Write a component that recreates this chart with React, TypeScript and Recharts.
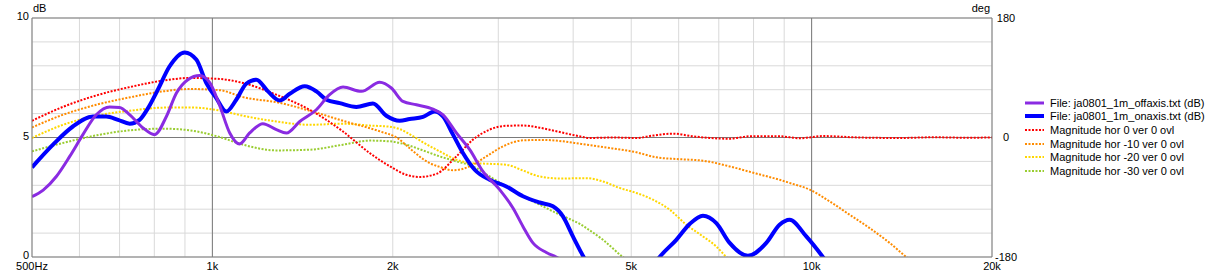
import React from 'react';
import { LineChart, Line, XAxis, YAxis, CartesianGrid, ReferenceLine } from 'recharts';

const FONT = '"Liberation Sans", Arial, sans-serif';

// x axis: gridlines at every tick, labels only on a few
const freqTicks = [500, 600, 700, 800, 900, 1000, 2000, 3000, 4000, 5000, 6000, 7000, 8000, 9000, 10000, 20000];
const freqLabels: Record<number, string> = { 500: '500Hz', 1000: '1k', 2000: '2k', 5000: '5k', 10000: '10k', 20000: '20k' };
const dbTicks = [0, 1, 2, 3, 4, 5, 6, 7, 8, 9, 10];
const dbLabels = [0, 5, 10];
const degTicks = [-180, 0, 180];

// File: ja0801_1m_onaxis.txt
const onAxisFreq = [500, 542, 585, 632, 665, 696, 728, 756, 781, 811, 848, 899, 940, 977, 1015, 1055, 1096, 1139, 1184, 1238, 1295, 1346, 1426, 1491, 1550, 1631, 1739, 1853, 1951, 2054, 2134, 2246, 2349, 2426, 2521, 2619, 2740, 2902, 3094, 3298, 3516, 3701, 3846, 3996, 4101, 4300, 4800, 5300, 5577, 5946, 6259, 6587, 6934, 7298, 7828, 8402, 8841, 9188, 9797, 10441, 11000];
const onAxisDb = [3.75, 4.7, 5.46, 5.88, 5.88, 5.74, 5.58, 5.74, 6.23, 7.0, 7.97, 8.56, 8.26, 7.28, 6.65, 6.09, 6.58, 7.25, 7.42, 6.93, 6.55, 6.83, 7.14, 6.93, 6.58, 6.44, 6.28, 6.42, 5.91, 5.7, 5.77, 5.86, 6.09, 5.88, 5.12, 4.35, 3.65, 3.23, 2.95, 2.54, 2.28, 2.12, 1.7, 0.86, 0.31, -0.6, -1.5, -0.8, 0, 0.72, 1.38, 1.73, 1.42, 0.59, 0.05, 0.59, 1.35, 1.56, 0.86, 0, -0.8];

// File: ja0801_1m_offaxis.txt
const offAxisFreq = [500, 522, 549, 578, 608, 640, 674, 700, 728, 766, 801, 838, 871, 910, 952, 990, 1028, 1069, 1110, 1154, 1214, 1279, 1329, 1399, 1491, 1569, 1652, 1773, 1902, 1989, 2080, 2190, 2334, 2426, 2554, 2688, 2828, 3016, 3174, 3298, 3427, 3608, 3749, 4000];
const offAxisDb = [2.52, 2.8, 3.37, 4.21, 5.12, 5.95, 6.28, 6.26, 5.95, 5.4, 5.12, 5.88, 6.86, 7.42, 7.59, 7.3, 6.35, 5.19, 4.73, 5.19, 5.58, 5.33, 5.19, 5.67, 6.16, 6.79, 7.11, 6.93, 7.31, 7.07, 6.51, 6.37, 6.19, 5.95, 5.19, 4.49, 3.58, 2.82, 2.05, 1.28, 0.59, 0.19, 0, -0.4];

// Magnitude hor 0 ver 0 ovl
const hor0Freq = [500, 563, 640, 728, 827, 916, 1028, 1125, 1279, 1453, 1652, 1830, 1976, 2107, 2218, 2365, 2554, 2722, 2902, 3094, 3298, 3516, 3749, 4101, 4261, 4660, 5099, 5435, 5869, 6339, 6759, 7298, 7879, 8841, 9548, 10441, 12000, 14000, 16000, 18000, 20000];
const hor0Db = [5.7, 6.28, 6.76, 7.11, 7.38, 7.49, 7.45, 7.28, 6.79, 6.16, 5.25, 4.35, 3.8, 3.44, 3.35, 3.48, 4.21, 4.91, 5.33, 5.49, 5.5, 5.41, 5.26, 5.05, 4.98, 5.0, 4.98, 5.08, 5.16, 5.05, 4.98, 4.95, 5.05, 5.05, 4.97, 5.06, 5.0, 4.98, 5.01, 4.99, 5.0];

// Magnitude hor -10 ver 0 ovl
const hor10Freq = [500, 563, 640, 728, 827, 916, 1028, 1125, 1295, 1467, 1677, 1902, 2028, 2164, 2246, 2305, 2395, 2521, 2688, 2866, 3054, 3298, 3561, 3846, 4101, 4485, 5099, 5507, 5946, 6587, 7298, 8085, 8841, 9188, 9922, 10713, 11570, 12497, 13496, 14388, 15500];
const hor10Db = [5.42, 5.95, 6.37, 6.68, 6.93, 7.03, 6.98, 6.69, 6.45, 6.09, 5.65, 5.26, 5.0, 4.42, 4.1, 3.93, 3.77, 3.63, 3.79, 4.21, 4.63, 4.88, 4.9, 4.84, 4.74, 4.6, 4.38, 4.17, 4.1, 4.03, 3.79, 3.49, 3.23, 3.1, 2.82, 2.33, 1.77, 1.21, 0.59, 0, -0.6];

// Magnitude hor -20 ver 0 ovl
const hor20Freq = [500, 563, 640, 728, 827, 916, 1028, 1125, 1279, 1453, 1652, 1830, 1976, 2054, 2164, 2246, 2395, 2554, 2722, 2902, 3094, 3298, 3516, 3846, 4101, 4208, 4485, 4782, 5099, 5435, 5795, 6180, 6587, 6934, 7206, 7600];
const hor20Db = [4.98, 5.53, 5.91, 6.12, 6.25, 6.26, 6.13, 5.91, 5.67, 5.53, 5.58, 5.5, 5.45, 5.35, 5.05, 4.8, 4.42, 4.07, 3.92, 3.9, 3.86, 3.62, 3.37, 3.28, 3.3, 3.3, 3.16, 2.89, 2.68, 2.4, 1.98, 1.35, 0.86, 0.44, 0, -0.5];

// Magnitude hor -30 ver 0 ovl
const hor30Freq = [500, 563, 640, 728, 827, 916, 1028, 1125, 1279, 1453, 1652, 1830, 1976, 2107, 2246, 2395, 2554, 2722, 2902, 3094, 3298, 3516, 3749, 3946, 4101, 4208, 4485, 4843, 5200];
const hor30Db = [4.42, 4.77, 5.09, 5.3, 5.37, 5.3, 5.02, 4.7, 4.46, 4.49, 4.7, 4.87, 4.84, 4.7, 4.46, 4.21, 4.0, 3.79, 3.37, 2.95, 2.54, 2.19, 1.84, 1.59, 1.39, 1.21, 0.72, 0, -0.5];

const toData = (freq: number[], db: number[]) => freq.map((f, i) => ({ f, v: db[i] }));

// drawn in this order, so the last one ends up on top
const series = [
  { name: 'Magnitude hor -30 ver 0 ovl', data: toData(hor30Freq, hor30Db), color: '#9acd32', width: 2, dotted: true },
  { name: 'Magnitude hor -20 ver 0 ovl', data: toData(hor20Freq, hor20Db), color: '#ffd700', width: 2, dotted: true },
  { name: 'Magnitude hor -10 ver 0 ovl', data: toData(hor10Freq, hor10Db), color: '#ff8c00', width: 2, dotted: true },
  { name: 'Magnitude hor 0 ver 0 ovl', data: toData(hor0Freq, hor0Db), color: '#ff0000', width: 2, dotted: true },
  { name: 'File: ja0801_1m_onaxis.txt (dB)', data: toData(onAxisFreq, onAxisDb), color: '#0000ff', width: 4, dotted: false },
  { name: 'File: ja0801_1m_offaxis.txt (dB)', data: toData(offAxisFreq, offAxisDb), color: '#8a2be2', width: 3, dotted: false },
];

const legendOrder = [5, 4, 3, 2, 1, 0];

const GRID = '#d9d9d9';
const MAJOR = '#7a7a7a';
const tickStyle = { fill: '#000', fontSize: 11, fontFamily: FONT };

// left labels sit a little above their gridline in the original
const DbTick = (props: any) => {
  const { x, y, payload } = props;
  if (!dbLabels.includes(payload.value)) return null;
  return (
    <text x={x} y={y - 1.5} dy="0.355em" textAnchor="end" fill="#000" fontSize={11} fontFamily={FONT}>
      {payload.value}
    </text>
  );
};

const DegTick = (props: any) => {
  const { x, y, payload } = props;
  return (
    <text x={x + 14} y={y} dy="0.355em" textAnchor="middle" fill="#000" fontSize={11} fontFamily={FONT}>
      {payload.value}
    </text>
  );
};

function Legend() {
  return (
    <div style={{ position: 'absolute', left: 1025, top: 96, fontFamily: FONT, fontSize: 11, color: '#000' }}>
      {legendOrder.map((i) => {
        const s = series[i];
        return (
          <div key={s.name} style={{ display: 'flex', alignItems: 'center', height: 13.6, whiteSpace: 'nowrap' }}>
            <svg width={19} height={8} style={{ marginRight: 6 }}>
              <line
                x1={0}
                x2={19}
                y1={4}
                y2={4}
                stroke={s.color}
                strokeWidth={s.dotted ? 2 : s.width}
                strokeDasharray={s.dotted ? '2 1.5' : undefined}
              />
            </svg>
            <span>{s.name}</span>
          </div>
        );
      })}
    </div>
  );
}

export default function App() {
  return (
    <div style={{ position: 'absolute', left: 0, top: 0, width: 1214, height: 275, background: '#fff', overflow: 'hidden' }}>
      <LineChart width={1214} height={275} margin={{ top: 18, right: 192, bottom: 0, left: 0 }}>
        <CartesianGrid stroke={GRID} strokeWidth={1} fill="none" />
        <XAxis
          dataKey="f"
          type="number"
          scale="log"
          domain={[500, 20000]}
          allowDataOverflow
          ticks={freqTicks}
          tickFormatter={(v: number) => freqLabels[v] ?? ''}
          interval={0}
          height={18}
          tickLine={false}
          tickSize={5}
          tickMargin={0}
          axisLine={{ stroke: MAJOR }}
          tick={tickStyle}
        />
        <YAxis
          type="number"
          domain={[0, 10]}
          allowDataOverflow
          ticks={dbTicks}
          interval={0}
          width={32}
          tickLine={false}
          tickSize={3}
          tickMargin={0}
          axisLine={{ stroke: MAJOR }}
          tick={<DbTick />}
        />
        <YAxis
          yAxisId="right"
          orientation="right"
          type="number"
          domain={[-180, 180]}
          allowDataOverflow
          ticks={degTicks}
          interval={0}
          width={30}
          tickLine={false}
          tickSize={0}
          tickMargin={0}
          axisLine={{ stroke: MAJOR }}
          tick={<DegTick />}
        />
        <ReferenceLine y={5} stroke={MAJOR} strokeWidth={1} />
        <ReferenceLine y={10} stroke={MAJOR} strokeWidth={1} />
        <ReferenceLine x={1000} stroke={MAJOR} strokeWidth={1} />
        <ReferenceLine x={10000} stroke={MAJOR} strokeWidth={1} />
        {series.map((s) => (
          <Line
            key={s.name}
            data={s.data}
            dataKey="v"
            name={s.name}
            type="monotone"
            stroke={s.color}
            strokeWidth={s.width}
            strokeDasharray={s.dotted ? '2 1.5' : undefined}
            dot={false}
            activeDot={false}
            isAnimationActive={false}
          />
        ))}
      </LineChart>
      <span style={{ position: 'absolute', left: 33, top: 2, fontFamily: FONT, fontSize: 11, color: '#000' }}>dB</span>
      <span style={{ position: 'absolute', right: 1214 - 990, top: 2, fontFamily: FONT, fontSize: 11, color: '#000' }}>deg</span>
      <Legend />
    </div>
  );
}
